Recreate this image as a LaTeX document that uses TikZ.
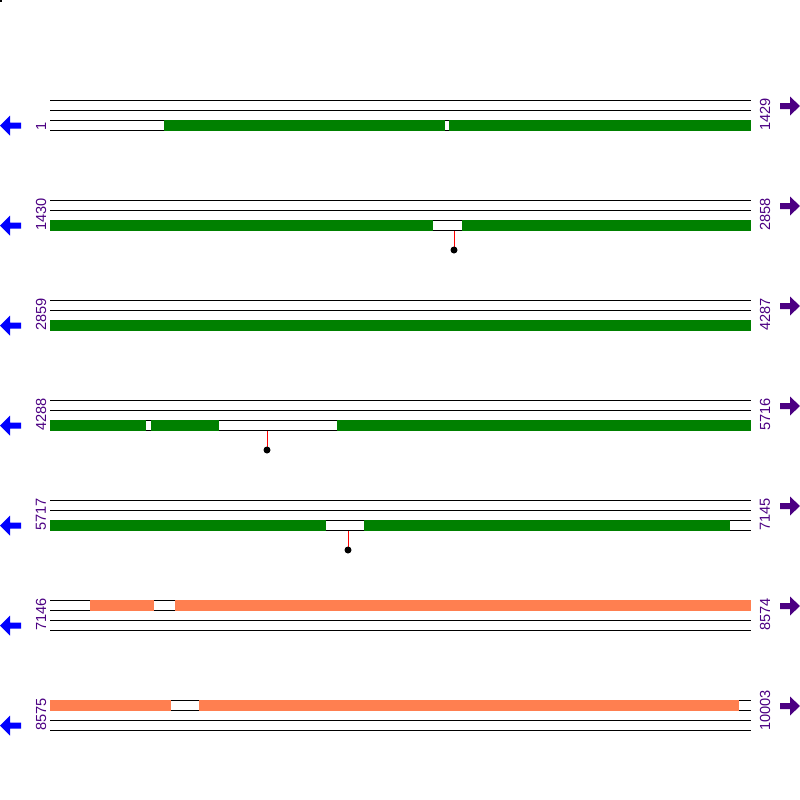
\documentclass[tikz,border=0pt]{standalone}
\usepackage{fontspec}
\setmainfont{Liberation Sans}
\definecolor{gr}{HTML}{008000}
\definecolor{co}{HTML}{FF7F50}
\definecolor{ind}{HTML}{4B0082}
\begin{document}
\begin{tikzpicture}[x=0.5pt,y=-0.5pt,line width=0.5pt,
  seqline/.style={draw=black,line width=0.5pt},
  gbar/.style={fill=gr},
  obar/.style={fill=co},
  stick/.style={draw=red,line width=0.5pt},
  knob/.style={fill=black},
  numlab/.style={rotate=90,anchor=west,inner sep=0pt,text=ind,font=\fontsize{7.3}{8}\selectfont},
  larrow/.style={fill=blue},
  rarrow/.style={fill=ind}]
\useasboundingbox (0,0) rectangle (800,800);
\fill (0,0) rectangle (2,2);
% rows: lines, labels, arrows
\foreach \r/\a/\b in {0/1/1429,1/1430/2858,2/2859/4287,3/4288/5716,4/5717/7145,5/7146/8574,6/8575/10003}{
  \begin{scope}[yshift={-\r*50pt}]
    \foreach \yy in {100.5,110.5,120.5,130.5}{
      \draw[seqline] (50,\yy) -- (751,\yy);
    }
    \node[numlab] (l\r) at (41,131) {\a};
    \node[numlab] (r\r) at (765,131) {\b};
    \fill[larrow] (0,125.5) -- (10,115.5) -- (10,122.5) -- (21,122.5) -- (21,128.5) -- (10,128.5) -- (10,135.5) -- cycle;
    \fill[rarrow] (800,106) -- (790,96.5) -- (790,103) -- (780,103) -- (780,109) -- (790,109) -- (790,115.5) -- cycle;
  \end{scope}
}
% row 1
\fill[gbar] (164,120) rectangle (445,131);
\fill[gbar] (449,120) rectangle (751,131);
% row 2
\fill[gbar] (50,220) rectangle (433,231);
\fill[gbar] (462,220) rectangle (751,231);
\draw[stick] (454,231) -- (454,249);
\fill[knob] (454,250) circle (3.5);
% row 3
\fill[gbar] (50,320) rectangle (751,331);
% row 4
\fill[gbar] (50,420) rectangle (146,431);
\fill[gbar] (151,420) rectangle (219,431);
\fill[gbar] (337,420) rectangle (751,431);
\draw[stick] (267,431) -- (267,449);
\fill[knob] (267,450) circle (3.5);
% row 5
\fill[gbar] (50,520) rectangle (326,531);
\fill[gbar] (364,520) rectangle (730,531);
\draw[stick] (348,531) -- (348,549);
\fill[knob] (348,550) circle (3.5);
% row 6
\fill[obar] (90,600) rectangle (154,611);
\fill[obar] (175,600) rectangle (751,611);
% row 7
\fill[obar] (50,700) rectangle (171,711);
\fill[obar] (199,700) rectangle (739,711);
\end{tikzpicture}
\end{document}
